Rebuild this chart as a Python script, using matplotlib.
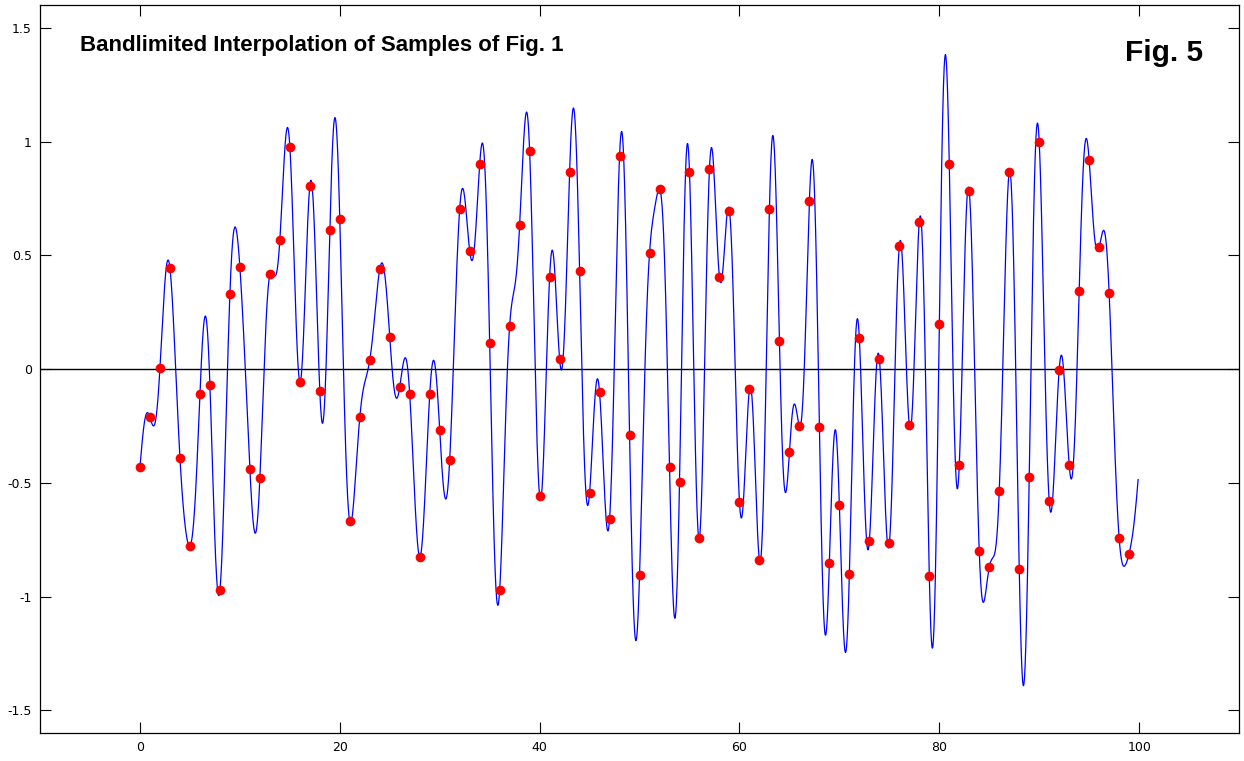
import numpy as np
import matplotlib
matplotlib.use("Agg")
import matplotlib.pyplot as plt

# samples of Fig. 1, one per integer index
sample_index = np.arange(100)
sample_values = [
    -0.432, -0.213, 0.006, 0.443, -0.389, -0.778, -0.112, -0.069, -0.972, 0.329,
    0.448, -0.441, -0.480, 0.416, 0.568, 0.977, -0.056, 0.805, -0.098, 0.611,
    0.658, -0.670, -0.213, 0.040, 0.439, 0.141, -0.079, -0.112, -0.825, -0.112,
    -0.269, -0.398, 0.705, 0.520, 0.900, 0.115, -0.972, 0.191, 0.634, 0.957,
    -0.559, 0.405, 0.044, 0.866, 0.429, -0.545, -0.103, -0.659, 0.938, -0.289,
    -0.906, 0.510, 0.791, -0.432, -0.498, 0.866, -0.742, 0.881, 0.405, 0.695,
    -0.583, -0.090, -0.841, 0.705, 0.125, -0.366, -0.251, 0.740, -0.255, -0.852,
    -0.598, -0.902, 0.135, -0.757, 0.046, -0.767, 0.541, -0.248, 0.648, -0.909,
    0.198, 0.902, -0.424, 0.781, -0.801, -0.872, -0.537, 0.866, -0.878, -0.474,
    1.000, -0.579, -0.003, -0.421, 0.344, 0.919, 0.535, 0.335, -0.742, -0.811,
]
x_ticks = [0, 20, 40, 60, 80, 100]
y_ticks = [-1.5, -1, -0.5, 0, 0.5, 1, 1.5]
y_tick_labels = ["-1.5", "-1", "-0.5", "0", "0.5", "1", "1.5"]

title_text = "Bandlimited Interpolation of Samples of Fig. 1"
fig_label = "Fig. 5"


def bandlimited(samples, t):
    # periodic sinc (Dirichlet kernel) interpolation, like interpft
    samples = np.asarray(samples)
    n = len(samples)
    d = t[:, None] - np.arange(n)[None, :]
    with np.errstate(divide="ignore", invalid="ignore"):
        k = np.sin(np.pi * d) / (n * np.tan(np.pi * d / n))
    k[np.isclose(np.sin(np.pi * d / n), 0)] = 1.0
    return k @ samples


t = np.linspace(0, 99.9, 4000)
curve = bandlimited(sample_values, t)

fig = plt.figure(figsize=(12.44, 7.61), dpi=100)
ax = fig.add_axes([0.0322, 0.0368, 0.9638, 0.9566])

ax.axhline(0, color="black", lw=1.0, zorder=1)
ax.plot(t, curve, color="#0000ff", lw=0.9, zorder=2)
ax.plot(sample_index, sample_values, "o", color="#ff0000", markersize=7,
        markeredgewidth=0, zorder=3)

ax.set_xlim(-10, 110)
ax.set_ylim(-1.6, 1.6)
ax.set_xticks(x_ticks)
ax.set_yticks(y_ticks)
ax.set_yticklabels(y_tick_labels)
ax.tick_params(direction="in", length=8, width=0.8, top=True, right=True,
               labelsize=9, pad=6)
for s in ax.spines.values():
    s.set_linewidth(0.9)

# title and figure label sit inside the axes
fig.text(80 / 1244, 1 - 45 / 761, title_text, fontsize=16, fontweight="bold",
         family="Liberation Sans", va="center")
ax.text(0.970, 0.934, fig_label, transform=ax.transAxes, fontsize=21.5,
        fontweight="bold", family="Liberation Sans", ha="right", va="center")

fig.savefig("out.png", dpi=100)
